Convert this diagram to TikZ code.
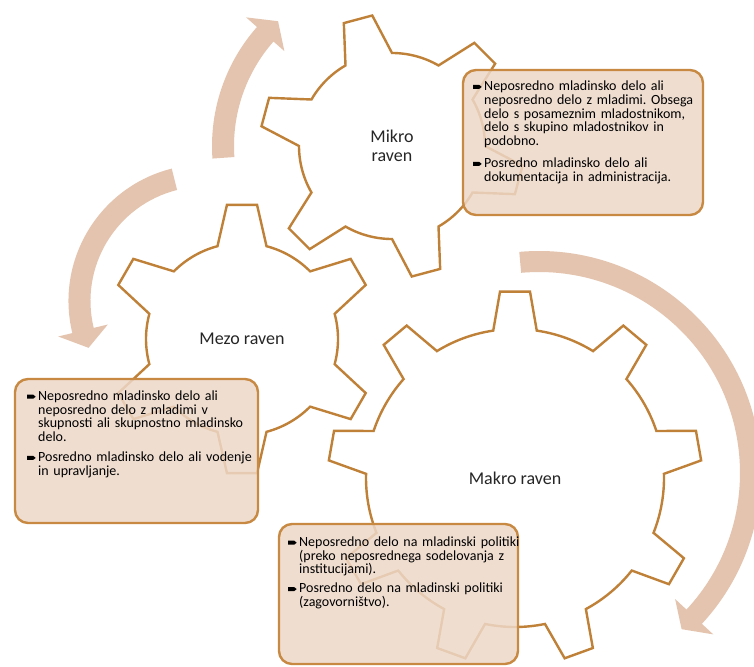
\documentclass[tikz,border=0pt]{standalone}
\usepackage{fontspec}
\setmainfont{Carlito}
\usetikzlibrary{positioning}

\definecolor{gearbrown}{RGB}{191,128,56}
\definecolor{boxline}{RGB}{200,138,66}
\definecolor{boxfill}{RGB}{237,216,200}
\definecolor{arrowtan}{RGB}{228,196,174}

% gear: centre, teeth, tip radius, body radius, tip half angle, base half angle, first tooth
\newcommand{\gear}[7]{%
  \draw[gearline,shift={(#1)}] ({#7-#6}:#4)
    \foreach \k [evaluate=\k as \ang using #7+(\k-1)*360/#2] in {1,...,#2}
      {-- ({\ang-#5}:#3) -- ({\ang+#5}:#3) -- ({\ang+#6}:#4)
       arc[start angle=\ang+#6, end angle=\ang+360/#2-#6, radius=#4]}
    -- cycle;}
% ring arrow: centre, radius, half width, tail angle, head angle, tip angle, head half width
\newcommand{\ringarrow}[7]{%
  \fill[arrowfill,shift={(#1)}] ({#4}:{#2+#3}) arc[start angle=#4, end angle=#5, radius=#2+#3]
    -- ({#5}:{#2+#7}) -- ({#6}:#2) -- ({#5}:{#2-#7}) -- ({#5}:{#2-#3})
    arc[start angle=#5, end angle=#4, radius=#2-#3] -- cycle;}
\newcommand{\bul}{\makebox[11pt][l]{\tikz[baseline=-1.6pt]\fill (0pt,0pt) -- (6pt,0pt) -- (8.5pt,2pt) -- (6pt,4pt) -- (0pt,4pt) -- cycle;}}
\newcommand{\ind}{\hspace*{11pt}}

\begin{document}
\begin{tikzpicture}[x=1pt,y=-1pt,
    gearline/.style={draw=gearbrown,line width=2.4pt,line join=miter},
    arrowfill/.style={fill=arrowtan},
    infobox/.style={draw=boxline,line width=2.4pt,fill=boxfill,fill opacity=0.85,rounded corners=13pt,inner sep=0pt,outer sep=0pt},
    infotext/.style={text width=235pt,align=left,inner sep=0pt,anchor=base west,font=\fontsize{14}{13.8}\selectfont\frenchspacing},
    gearlabel/.style={align=center,text=black!85,font=\fontsize{18}{19}\selectfont}]
  \useasboundingbox (0,0) rectangle (754,666);
  \fill[white] (0,0) rectangle (754,666);
  \clip (0,0) rectangle (754,666);

  \coordinate (mikroc) at (392,146);
  \coordinate (mezoc) at (242,339);
  \coordinate (makroc) at (515,478);
  \coordinate (leftc) at (205,301);
  \coordinate (rightc) at (539,473);

  \ringarrow{mikroc}{169}{11}{-184}{-138.6}{-132.4}{25.5}
  \ringarrow{leftc}{125.5}{11}{-104.1}{-193.6}{-201.9}{25.5}
  \ringarrow{rightc}{211.5}{10.5}{-95.1}{42.8}{47.6}{26}

  \gear{mikroc}{6}{132}{93}{6.4}{15}{15}
  \gear{mezoc}{6}{135}{96}{6.4}{14.8}{30}
  \gear{makroc}{9}{187}{149}{4.6}{8.4}{30}

  \node[gearlabel] (mikro) at (mikroc) {Mikro\\raven};
  \node[gearlabel] (mezo) at (mezoc) {Mezo raven};
  \node[gearlabel] (makro) at (makroc) {Makro raven};

  \node[infobox,minimum width=240pt,minimum height=145pt] (mikrobox) at (583,142.5) {};
  \node[infobox,minimum width=243pt,minimum height=144pt] (mezobox) at (136.5,451) {};
  \node[infobox,minimum width=239pt,minimum height=140pt] (makrobox) at (398.5,594) {};

  \node[infotext] (mikrotext) at ([xshift=10pt,yshift=-20.5pt]mikrobox.north west) {%
    \bul Neposredno mladinsko delo ali\\
    \ind neposredno delo z mladimi. Obsega\\
    \ind delo s posameznim mladostnikom,\\
    \ind delo s skupino mladostnikov in\\
    \ind podobno.\\[8pt]
    \bul Posredno mladinsko delo ali\\
    \ind dokumentacija in administracija.};
  \node[infotext] (mezotext) at ([xshift=12pt,yshift=-21.3pt]mezobox.north west) {%
    \bul Neposredno mladinsko delo ali\\
    \ind neposredno delo z mladimi v\\
    \ind skupnosti ali skupnostno mladinsko\\
    \ind delo.\\[6pt]
    \bul Posredno mladinsko delo ali vodenje\\
    \ind in upravljanje.};
  \node[infotext] (makrotext) at ([xshift=9pt,yshift=-22.3pt]makrobox.north west) {%
    \bul Neposredno delo na mladinski politiki\\
    \ind (preko neposrednega sodelovanja z\\
    \ind institucijami).\\[5pt]
    \bul Posredno delo na mladinski politiki\\
    \ind (zagovorništvo).};
\end{tikzpicture}
\end{document}
